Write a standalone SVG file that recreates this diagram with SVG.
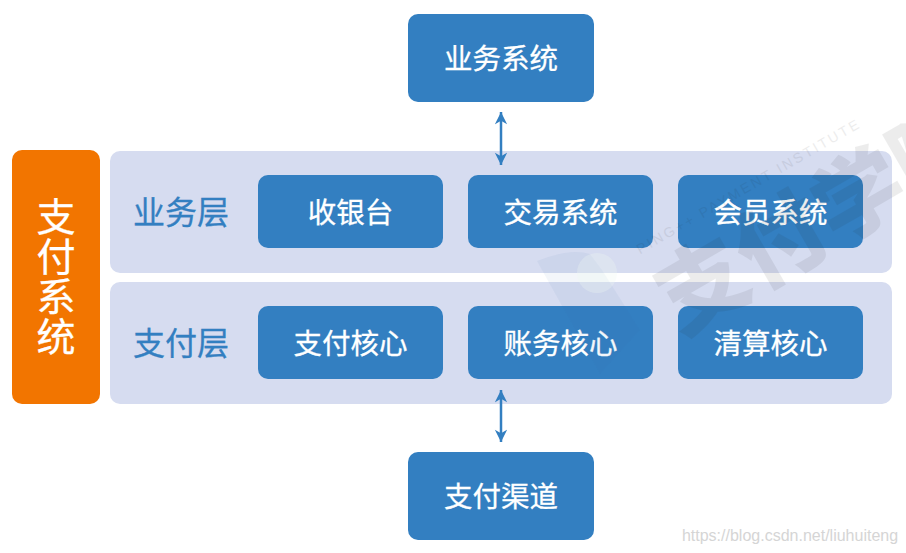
<svg xmlns="http://www.w3.org/2000/svg" width="906" height="553" viewBox="0 0 906 553">
<style>
text{font-family:"Noto Sans CJK SC","Liberation Sans",sans-serif;text-anchor:middle}
.box{fill:#337fc1}
.panel{fill:#d6dcf0}
.t{fill:#fff;stroke:#fff;stroke-width:.3px;font-size:28.500px}
.l{fill:#337fc1;stroke:#337fc1;stroke-width:.3px;font-size:32px}
.c{stroke:#337fc1;stroke-width:2.500;fill:none;marker-start:url(#ah);marker-end:url(#ah)}
</style>
<defs>
<marker id="ah" viewBox="0 0 14 16" refX="14" refY="7" markerWidth="14" markerHeight="14" markerUnits="userSpaceOnUse" orient="auto-start-reverse">
<path d="M0 0L14 7L0 14L4 7Z" fill="#337fc1"/>
</marker>
</defs>
<rect width="906" height="553" fill="#fff"/>
<g id="panel-business"><rect class="panel" x="110" y="151" width="782" height="122" rx="10"/><text class="l" x="181" y="224">业务层</text></g>
<g id="panel-payment"><rect class="panel" x="110" y="282" width="782" height="122" rx="10"/><text class="l" x="181" y="355">支付层</text></g>
<g id="system"><rect x="12" y="150" width="88" height="254" rx="10" fill="#f27500"/>
<text fill="#fff" stroke="#fff" stroke-width=".3" font-size="39" x="56" y="277" style="writing-mode:vertical-rl;letter-spacing:1px">支付系统</text></g>
<g id="top"><rect class="box" x="408" y="14" width="186" height="88" rx="10"/><text class="t" x="501" y="69">业务系统</text></g>
<g id="cashier"><rect class="box" x="258" y="175" width="185" height="73" rx="10"/><text class="t" x="350.500" y="223">收银台</text></g>
<g id="trade"><rect class="box" x="468" y="175" width="185" height="73" rx="10"/><text class="t" x="560.500" y="223">交易系统</text></g>
<g id="member"><rect class="box" x="678" y="175" width="185" height="73" rx="10"/><text class="t" x="770.500" y="223">会员系统</text></g>
<g id="paycore"><rect class="box" x="258" y="306" width="185" height="73" rx="10"/><text class="t" x="350.500" y="354">支付核心</text></g>
<g id="account"><rect class="box" x="468" y="306" width="185" height="73" rx="10"/><text class="t" x="560.500" y="354">账务核心</text></g>
<g id="clearing"><rect class="box" x="678" y="306" width="185" height="73" rx="10"/><text class="t" x="770.500" y="354">清算核心</text></g>
<g id="bottom"><rect class="box" x="408" y="452" width="186" height="88" rx="10"/><text class="t" x="501" y="507">支付渠道</text></g>
<g id="connectors">
<path class="c" d="M501 112V165"/>
<path class="c" d="M501 390V442"/>
</g>
<g id="watermark">
<path d="M537 261Q570 248 590 254L602 270L640 330L600 374Z" fill="#3a5fb0" opacity=".06"/>
<circle cx="597" cy="273" r="20" fill="#eef7f2" opacity=".3"/>
<text transform="translate(836 246) rotate(-30)" font-size="90" font-weight="900" fill="#222" opacity=".08">支付学院</text>
<text transform="translate(750 191) rotate(-30)" font-size="14" fill="#222" opacity=".08" textLength="254" style="font-family:'Liberation Sans',sans-serif">PING++ PAYMENT INSTITUTE</text>
</g>
<text x="790" y="541" font-size="16" fill="#c4c4c4" opacity="0.7" style="font-family:'Liberation Sans',sans-serif">https://blog.csdn.net/liuhuiteng</text>
</svg>
